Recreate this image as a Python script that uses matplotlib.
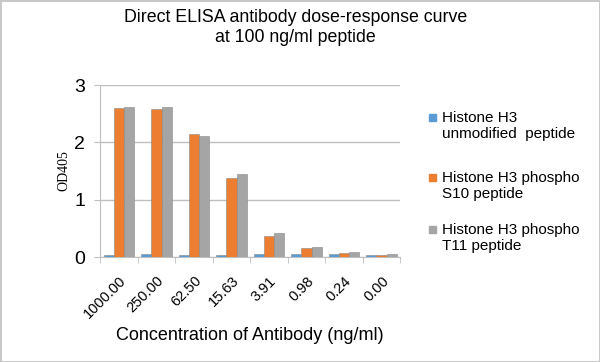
import matplotlib.pyplot as plt
import numpy as np

plt.rcParams['font.family'] = ['Liberation Sans', 'DejaVu Sans']

# dane
stezenia = ["1000.00", "250.00", "62.50", "15.63", "3.91", "0.98", "0.24", "0.00"]
niemodyfikowany = [0.04, 0.05, 0.04, 0.04, 0.05, 0.05, 0.05, 0.04]
fosfo_s10 = [2.60, 2.59, 2.15, 1.38, 0.37, 0.15, 0.07, 0.04]
fosfo_t11 = [2.62, 2.61, 2.11, 1.44, 0.42, 0.17, 0.08, 0.06]
etykiety = ["Histone H3\nunmodified  peptide",
            "Histone H3 phospho\nS10 peptide",
            "Histone H3 phospho\nT11 peptide"]
kolory = ["#5B9BD5", "#ED7D31", "#A5A5A5"]

fig = plt.figure(figsize=(6, 3.62), dpi=100)
fig.patch.set_edgecolor("#C8C8C8")
fig.patch.set_linewidth(2)
ax = fig.add_axes([0.167, 0.29, 0.5, 0.475])

x = np.arange(len(stezenia))
w = 0.27
serie = [niemodyfikowany, fosfo_s10, fosfo_t11]
for i, s in enumerate(serie):
    ax.bar(x + (i - 1) * w, s, w, color=kolory[i], edgecolor="#888888", linewidth=0.4, zorder=3)

ax.set_xlim(-0.5, len(stezenia) - 0.5)
ax.set_ylim(0, 3)
ax.set_yticks([0, 1, 2, 3])
ax.grid(axis="y", color="#BFBFBF", linewidth=1, zorder=0)
for s in ["top", "right"]:
    ax.spines[s].set_visible(False)
ax.spines["left"].set_color("#BFBFBF")
ax.spines["bottom"].set_color("#BFBFBF")
ax.tick_params(axis="y", colors="#BFBFBF", labelcolor="black", labelsize=14, length=4, pad=7)
ax.set_xticks(x)
ax.set_xticklabels(stezenia, rotation=45, ha="right", rotation_mode="anchor", fontsize=10.5)
ax.set_xticks(np.arange(-0.5, len(stezenia)), minor=True)
ax.tick_params(axis="x", which="major", length=0, pad=12)
ax.tick_params(axis="x", which="minor", length=4, colors="#BFBFBF")

ax.set_ylabel("OD405", family="Liberation Serif", fontsize=10, labelpad=3)
ax.set_xlabel("Concentration of Antibody (ng/ml)", fontsize=13, labelpad=4)
fig.text(0.492, 0.975, "Direct ELISA antibody dose-response curve\nat 100 ng/ml peptide",
         ha="center", va="top", fontsize=12.8, linespacing=1.2)

# legenda
ys = [0.693, 0.528, 0.384]
for y, et, k in zip(ys, etykiety, kolory):
    fig.patches.append(plt.Rectangle((0.715, y - 0.028), 0.0117, 0.019, color=k,
                                     transform=fig.transFigure, figure=fig))
    fig.text(0.737, y, et, ha="left", va="top", fontsize=11, linespacing=1.15)

plt.savefig("out.png", dpi=100, edgecolor=fig.get_edgecolor())
